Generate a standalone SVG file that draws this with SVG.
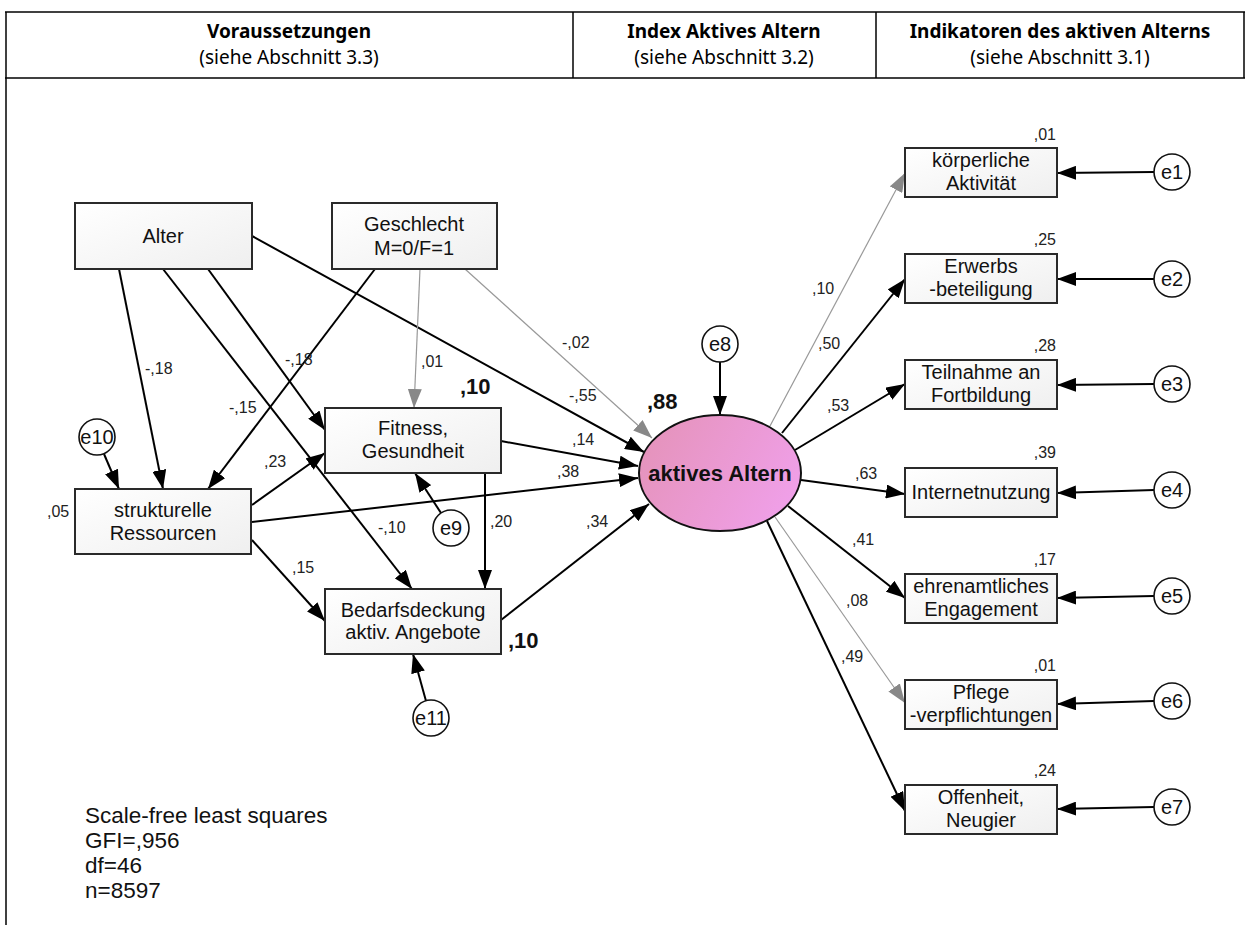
<svg xmlns="http://www.w3.org/2000/svg" width="1245" height="925" viewBox="0 0 1245 925">
<defs>
<linearGradient id="boxg" x1="0" y1="0" x2="1" y2="1">
<stop offset="0" stop-color="#ffffff"/><stop offset="1" stop-color="#efefef"/>
</linearGradient>
<linearGradient id="ellg" x1="0" y1="0.3" x2="1" y2="0.7">
<stop offset="0" stop-color="#e593bb"/><stop offset="1" stop-color="#f0a0ea"/>
</linearGradient>
<marker id="ab" markerUnits="userSpaceOnUse" markerWidth="20" markerHeight="14" refX="19" refY="7" orient="auto">
<path d="M0,0 L19,7 L0,14 z" fill="#000"/>
</marker>
<marker id="ag" markerUnits="userSpaceOnUse" markerWidth="20" markerHeight="14" refX="19" refY="7" orient="auto">
<path d="M0,0 L19,7 L0,14 z" fill="#888"/>
</marker>
</defs>
<style>
.tbl{stroke:#000;stroke-width:1.5;fill:none}
.hb{font-family:"Noto Sans","Open Sans",sans-serif;font-size:19px;font-weight:bold;text-anchor:middle;fill:#000}
.hr{font-family:"Noto Sans","Open Sans",sans-serif;font-size:19px;text-anchor:middle;fill:#000}
.box{fill:url(#boxg);stroke:#2a2a2a;stroke-width:2}
.nt{font-family:"Liberation Sans",Arial,sans-serif;font-size:20px;text-anchor:middle;fill:#111}
.ec{fill:#fff;stroke:#111;stroke-width:1.6}
.lb{font-family:"Liberation Sans",Arial,sans-serif;font-size:16px;fill:#222}
.bl{font-family:"Liberation Sans",Arial,sans-serif;font-size:22px;font-weight:bold;fill:#111}
.k{stroke:#000;stroke-width:2;fill:none;marker-end:url(#ab)}
.g{stroke:#999;stroke-width:1.2;fill:none;marker-end:url(#ag)}
.ft{font-family:"Liberation Sans",Arial,sans-serif;font-size:22.5px;fill:#111}
</style>
<g id="table">
<line class="tbl" x1="5" y1="12" x2="1245" y2="12"/>
<line class="tbl" x1="5" y1="78" x2="1245" y2="78"/>
<line class="tbl" x1="6" y1="12" x2="6" y2="925"/>
<line class="tbl" x1="573" y1="12" x2="573" y2="78"/>
<line class="tbl" x1="876" y1="12" x2="876" y2="78"/>
<line class="tbl" x1="1244" y1="12" x2="1244" y2="78"/>
<text class="hb" x="289" y="38">Voraussetzungen</text>
<text class="hr" x="289" y="64">(siehe Abschnitt 3.3)</text>
<text class="hb" x="724" y="38">Index Aktives Altern</text>
<text class="hr" x="724" y="64">(siehe Abschnitt 3.2)</text>
<text class="hb" x="1060" y="38">Indikatoren des aktiven Alterns</text>
<text class="hr" x="1060" y="64">(siehe Abschnitt 3.1)</text>
</g>
<g id="connectors">
<line class="k" x1="119" y1="269" x2="163" y2="489"/>
<line class="k" x1="163" y1="269" x2="412" y2="589"/>
<line class="k" x1="208" y1="269" x2="325" y2="430"/>
<line class="k" x1="252" y1="236" x2="644" y2="452"/>
<line class="k" x1="375" y1="269" x2="208" y2="489"/>
<line class="g" x1="420" y1="269" x2="414" y2="408"/>
<line class="g" x1="465" y1="269" x2="652" y2="438"/>
<line class="k" x1="252" y1="505" x2="325" y2="453"/>
<line class="k" x1="252" y1="522" x2="638" y2="478"/>
<line class="k" x1="252" y1="540" x2="325" y2="621"/>
<line class="k" x1="501" y1="441" x2="638" y2="466"/>
<line class="k" x1="485" y1="473" x2="485" y2="589"/>
<line class="k" x1="501" y1="620" x2="649" y2="504"/>
<line class="k" x1="104" y1="454" x2="119" y2="489"/>
<line class="k" x1="441" y1="513" x2="415" y2="473"/>
<line class="k" x1="426" y1="701" x2="413" y2="654"/>
<line class="k" x1="720" y1="362" x2="720" y2="415"/>
<line class="g" x1="770" y1="426" x2="905" y2="173"/>
<line class="k" x1="782" y1="433" x2="905" y2="279"/>
<line class="k" x1="795" y1="450" x2="905" y2="384"/>
<line class="k" x1="801" y1="480" x2="905" y2="494"/>
<line class="k" x1="788" y1="506" x2="905" y2="598"/>
<line class="g" x1="775" y1="517" x2="905" y2="703"/>
<line class="k" x1="767" y1="521" x2="905" y2="811"/>
<line class="k" x1="1154" y1="172" x2="1057" y2="173"/>
<line class="k" x1="1154" y1="279" x2="1057" y2="279"/>
<line class="k" x1="1154" y1="384" x2="1057" y2="385"/>
<line class="k" x1="1154" y1="490" x2="1057" y2="493"/>
<line class="k" x1="1154" y1="596" x2="1057" y2="598"/>
<line class="k" x1="1154" y1="701" x2="1057" y2="704"/>
<line class="k" x1="1154" y1="807" x2="1057" y2="809"/>
<text class="lb" x="145" y="374">-,18</text>
<text class="lb" x="285" y="365">-,18</text>
<text class="lb" x="421" y="367">,01</text>
<text class="lb" x="229" y="413">-,15</text>
<text class="lb" x="264" y="467">,23</text>
<text class="lb" x="47" y="517">,05</text>
<text class="lb" x="378" y="533">-,10</text>
<text class="lb" x="490" y="527">,20</text>
<text class="lb" x="292" y="573">,15</text>
<text class="lb" x="562" y="348">-,02</text>
<text class="lb" x="569" y="401">-,55</text>
<text class="lb" x="572" y="445">,14</text>
<text class="lb" x="557" y="477">,38</text>
<text class="lb" x="586" y="527">,34</text>
<text class="lb" x="812" y="294">,10</text>
<text class="lb" x="818" y="349">,50</text>
<text class="lb" x="827" y="411">,53</text>
<text class="lb" x="855" y="479">,63</text>
<text class="lb" x="852" y="545">,41</text>
<text class="lb" x="846" y="606">,08</text>
<text class="lb" x="841" y="662">,49</text>
</g>
<g id="alter"><rect class="box" x="75" y="203" width="177" height="66"/><text class="nt" x="163" y="243">Alter</text></g>
<g id="geschlecht"><rect class="box" x="332" y="203" width="165" height="66"/><text class="nt" x="414" y="231">Geschlecht</text><text class="nt" x="414" y="255">M=0/F=1</text></g>
<g id="fitness"><rect class="box" x="325" y="408" width="176" height="65"/><text class="nt" x="413" y="435">Fitness,</text><text class="nt" x="413" y="458">Gesundheit</text><text class="bl" x="460" y="394">,10</text></g>
<g id="strukturelle"><rect class="box" x="75" y="489" width="176" height="65"/><text class="nt" x="163" y="517">strukturelle</text><text class="nt" x="163" y="540">Ressourcen</text></g>
<g id="bedarf"><rect class="box" x="325" y="589" width="176" height="65"/><text class="nt" x="413" y="617">Bedarfsdeckung</text><text class="nt" x="413" y="639">aktiv. Angebote</text><text class="bl" x="508" y="648">,10</text></g>
<g id="aktives"><ellipse cx="720" cy="473" rx="81" ry="58" fill="url(#ellg)" stroke="#111" stroke-width="2"/><text class="bl" x="720" y="481" text-anchor="middle">aktives Altern</text><text class="bl" x="647" y="409">,88</text></g>
<g id="e8"><circle class="ec" cx="720" cy="344" r="18"/><text class="nt" x="720" y="351">e8</text></g>
<g id="e9"><circle class="ec" cx="451" cy="528" r="18"/><text class="nt" x="451" y="535">e9</text></g>
<g id="e10"><circle class="ec" cx="97" cy="437" r="18"/><text class="nt" x="97" y="444">e10</text></g>
<g id="e11"><circle class="ec" cx="431" cy="718" r="18"/><text class="nt" x="431" y="725">e11</text></g>
<g id="koerper"><rect class="box" x="905" y="148" width="152" height="49"/><text class="nt" x="981" y="167">körperliche</text><text class="nt" x="981" y="190">Aktivität</text><text class="lb" x="1056" y="140" text-anchor="end">,01</text></g>
<g id="erwerb"><rect class="box" x="905" y="254" width="152" height="49"/><text class="nt" x="981" y="273">Erwerbs</text><text class="nt" x="981" y="296">-beteiligung</text><text class="lb" x="1056" y="245" text-anchor="end">,25</text></g>
<g id="teilnahme"><rect class="box" x="905" y="360" width="152" height="49"/><text class="nt" x="981" y="379">Teilnahme an</text><text class="nt" x="981" y="402">Fortbildung</text><text class="lb" x="1056" y="351" text-anchor="end">,28</text></g>
<g id="internet"><rect class="box" x="905" y="468" width="152" height="49"/><text class="nt" x="981" y="499">Internetnutzung</text><text class="lb" x="1056" y="458" text-anchor="end">,39</text></g>
<g id="ehrenamt"><rect class="box" x="905" y="574" width="152" height="49"/><text class="nt" x="981" y="593">ehrenamtliches</text><text class="nt" x="981" y="616">Engagement</text><text class="lb" x="1056" y="565" text-anchor="end">,17</text></g>
<g id="pflege"><rect class="box" x="905" y="680" width="152" height="49"/><text class="nt" x="981" y="699">Pflege</text><text class="nt" x="981" y="722">-verpflichtungen</text><text class="lb" x="1056" y="671" text-anchor="end">,01</text></g>
<g id="offenheit"><rect class="box" x="905" y="785" width="152" height="49"/><text class="nt" x="981" y="804">Offenheit,</text><text class="nt" x="981" y="827">Neugier</text><text class="lb" x="1056" y="776" text-anchor="end">,24</text></g>
<g id="e1"><circle class="ec" cx="1172" cy="172" r="18"/><text class="nt" x="1172" y="179">e1</text></g>
<g id="e2"><circle class="ec" cx="1172" cy="279" r="18"/><text class="nt" x="1172" y="286">e2</text></g>
<g id="e3"><circle class="ec" cx="1172" cy="384" r="18"/><text class="nt" x="1172" y="391">e3</text></g>
<g id="e4"><circle class="ec" cx="1172" cy="490" r="18"/><text class="nt" x="1172" y="497">e4</text></g>
<g id="e5"><circle class="ec" cx="1172" cy="596" r="18"/><text class="nt" x="1172" y="603">e5</text></g>
<g id="e6"><circle class="ec" cx="1172" cy="701" r="18"/><text class="nt" x="1172" y="708">e6</text></g>
<g id="e7"><circle class="ec" cx="1172" cy="807" r="18"/><text class="nt" x="1172" y="814">e7</text></g>
<g id="fit-info">
<text class="ft" x="85" y="823">Scale-free least squares</text>
<text class="ft" x="85" y="848">GFI=,956</text>
<text class="ft" x="85" y="873">df=46</text>
<text class="ft" x="85" y="898">n=8597</text>
</g>
</svg>
